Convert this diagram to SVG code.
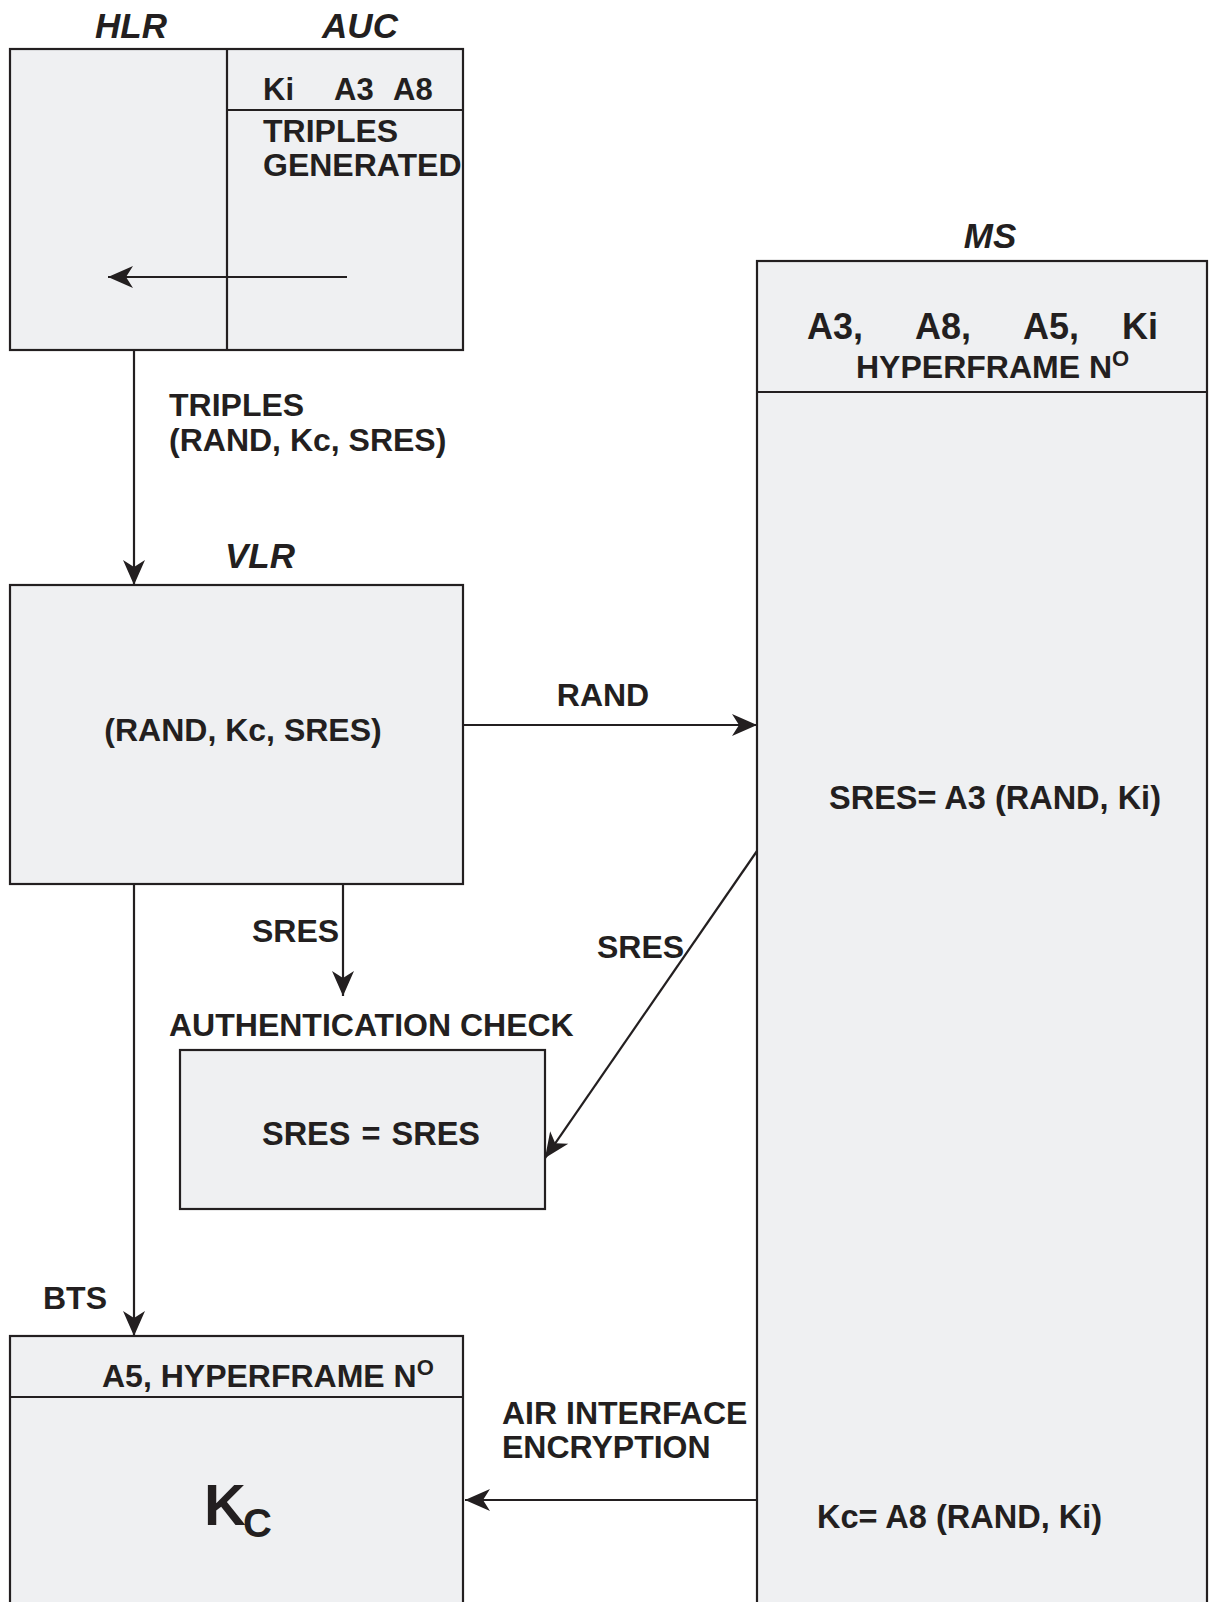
<svg xmlns="http://www.w3.org/2000/svg" width="1209" height="1602" viewBox="0 0 1209 1602">
<style>
.box{fill:#eff0f2;stroke:#231f20;stroke-width:2.2}
.ln{fill:none;stroke:#231f20;stroke-width:2.2}
text{font-family:"Liberation Sans",Arial,sans-serif;font-weight:bold;fill:#231f20}
.t{font-size:32px}
.f{font-size:32.5px}
.s{font-size:31px}
.h{font-size:32px}
.big{font-size:36px}
.it{font-size:35px;font-style:italic}
</style>
<defs>
<marker id="ah" markerUnits="userSpaceOnUse" markerWidth="30" markerHeight="26" viewBox="-26 -13 30 26" refX="0" refY="0" orient="auto">
<path d="M0,0 L-25,-11 L-18,0 L-25,11 Z" fill="#231f20"/>
</marker>
</defs>
<rect width="1209" height="1602" fill="#ffffff"/>
<g id="hlr-auc">
<rect class="box" x="10" y="49" width="453" height="301"/>
<line class="ln" x1="227" y1="49" x2="227" y2="350"/>
<line class="ln" x1="227" y1="110" x2="463" y2="110"/>
<text class="it" x="131" y="38" text-anchor="middle">HLR</text>
<text class="it" x="360" y="38" text-anchor="middle">AUC</text>
<text class="s" x="263" y="100">Ki</text>
<text class="s" x="334" y="100">A3</text>
<text class="s" x="393" y="100">A8</text>
<text class="h" x="263" y="142">TRIPLES</text>
<text class="h" x="263" y="176">GENERATED</text>
</g>
<g id="ms">
<rect class="box" x="757" y="261" width="450" height="1360"/>
<line class="ln" x1="757" y1="392" x2="1207" y2="392"/>
<text class="it" x="990" y="248" text-anchor="middle">MS</text>
<text class="big" x="807" y="339">A3,</text>
<text class="big" x="915" y="339">A8,</text>
<text class="big" x="1023" y="339">A5,</text>
<text class="big" x="1122" y="339">Ki</text>
<text class="h" x="856" y="378">HYPERFRAME N<tspan font-size="22" dy="-12">O</tspan></text>
<text class="f" x="829" y="809">SRES= A3 (RAND, Ki)</text>
<text class="f" x="817" y="1528">Kc= A8 (RAND, Ki)</text>
</g>
<g id="vlr">
<rect class="box" x="10" y="585" width="453" height="299"/>
<text class="it" x="260" y="568" text-anchor="middle">VLR</text>
<text class="t" x="243" y="741" text-anchor="middle">(RAND, Kc, SRES)</text>
</g>
<g id="auth">
<text class="t" x="169" y="1036">AUTHENTICATION CHECK</text>
<rect class="box" x="180" y="1050" width="365" height="159"/>
<text class="f" x="371" y="1145" text-anchor="middle">SRES <tspan dx="2">=</tspan> <tspan dx="2">SRES</tspan></text>
</g>
<g id="bts">
<rect class="box" x="10" y="1336" width="453" height="290"/>
<line class="ln" x1="10" y1="1397" x2="463" y2="1397"/>
<text class="h" x="102" y="1387">A5, HYPERFRAME N<tspan font-size="22" dy="-12">O</tspan></text>
<text x="204" y="1525" font-size="58">K<tspan font-size="40" dx="-3" dy="12">C</tspan></text>
</g>
<g id="connectors">
<line class="ln" x1="347" y1="277" x2="108" y2="277" marker-end="url(#ah)"/>
<line class="ln" x1="134" y1="350" x2="134" y2="585" marker-end="url(#ah)"/>
<line class="ln" x1="463" y1="725" x2="757" y2="725" marker-end="url(#ah)"/>
<line class="ln" x1="757" y1="851" x2="545" y2="1158" marker-end="url(#ah)"/>
<line class="ln" x1="343" y1="884" x2="343" y2="996" marker-end="url(#ah)"/>
<line class="ln" x1="134" y1="884" x2="134" y2="1336" marker-end="url(#ah)"/>
<line class="ln" x1="757" y1="1500" x2="465" y2="1500" marker-end="url(#ah)"/>
<text class="t" x="169" y="416">TRIPLES</text>
<text class="t" x="169" y="451">(RAND, Kc, SRES)</text>
<text class="t" x="603" y="706" text-anchor="middle">RAND</text>
<text class="t" x="252" y="942">SRES</text>
<text class="t" x="597" y="958">SRES</text>
<text class="t" x="43" y="1309">BTS</text>
<text class="t" x="502" y="1424">AIR INTERFACE</text>
<text class="t" x="502" y="1458">ENCRYPTION</text>
</g>
</svg>
